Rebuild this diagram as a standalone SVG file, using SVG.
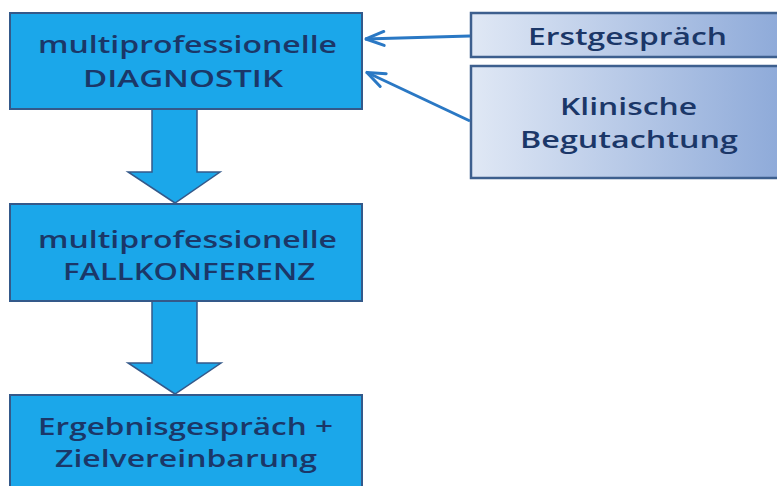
<svg xmlns="http://www.w3.org/2000/svg" width="777" height="486" viewBox="0 0 777 486">
  <style>
    .main { fill: #1ba7ea; stroke: #34598a; stroke-width: 2; }
    .side { fill: url(#sideGrad); stroke: #3d5f8e; stroke-width: 2.5; }
    .flow { fill: #1ba7ea; stroke: #34598a; stroke-width: 1.5; }
    .lbl { font-family: "Open Sans", "Liberation Sans", sans-serif; font-size: 23px; font-weight: 600; fill: #1b3768; }
    .conn { stroke: #2a78c4; stroke-width: 3; fill: none; }
  </style>
  <defs>
    <linearGradient id="sideGrad" x1="0" y1="0" x2="1" y2="0">
      <stop offset="0" stop-color="#e0e8f5"/>
      <stop offset="1" stop-color="#8eaad9"/>
    </linearGradient>
    <marker id="openArrow" markerUnits="userSpaceOnUse" viewBox="-24 -10 26 20" refX="0" refY="0" markerWidth="26" markerHeight="20" orient="auto">
      <path d="M-19,-7 L-1,0 L-19,7" fill="none" stroke="#2a78c4" stroke-width="3" stroke-linecap="round" stroke-linejoin="round"/>
    </marker>
  </defs>
  <rect width="777" height="486" fill="#ffffff"/>

  <g id="flow-arrows">
    <polygon class="flow" points="152,109 197,109 197,172 220,172 175,203 128,172 152,172"/>
    <polygon class="flow" points="152,301 197,301 197,363 221,363 175,394 128,363 152,363"/>
  </g>

  <g id="node-diagnostik">
    <rect class="main" x="10" y="13" width="352" height="96"/>
    <text class="lbl" x="38" y="53" textLength="299" lengthAdjust="spacingAndGlyphs">multiprofessionelle</text>
    <text class="lbl" x="83" y="87" textLength="200" lengthAdjust="spacingAndGlyphs">DIAGNOSTIK</text>
  </g>

  <g id="node-fallkonferenz">
    <rect class="main" x="10" y="204" width="352" height="97"/>
    <text class="lbl" x="38" y="248" textLength="299" lengthAdjust="spacingAndGlyphs">multiprofessionelle</text>
    <text class="lbl" x="63" y="280" textLength="252" lengthAdjust="spacingAndGlyphs">FALLKONFERENZ</text>
  </g>

  <g id="node-ergebnis">
    <rect class="main" x="10" y="395" width="352" height="100"/>
    <text class="lbl" x="38" y="435" textLength="295" lengthAdjust="spacingAndGlyphs">Ergebnisgespräch +</text>
    <text class="lbl" x="55" y="467" textLength="262" lengthAdjust="spacingAndGlyphs">Zielvereinbarung</text>
  </g>

  <g id="node-erstgespraech">
    <rect class="side" x="471" y="13" width="310" height="44"/>
    <text class="lbl" x="528" y="45" textLength="199" lengthAdjust="spacingAndGlyphs">Erstgespräch</text>
  </g>

  <g id="node-klinische">
    <rect class="side" x="471" y="66" width="310" height="112"/>
    <text class="lbl" x="560" y="115" textLength="137" lengthAdjust="spacingAndGlyphs">Klinische</text>
    <text class="lbl" x="520" y="148" textLength="218" lengthAdjust="spacingAndGlyphs">Begutachtung</text>
  </g>

  <g id="connectors">
    <line class="conn" x1="470" y1="36" x2="365" y2="39" marker-end="url(#openArrow)"/>
    <line class="conn" x1="470" y1="121" x2="366" y2="72" marker-end="url(#openArrow)"/>
  </g>
</svg>
